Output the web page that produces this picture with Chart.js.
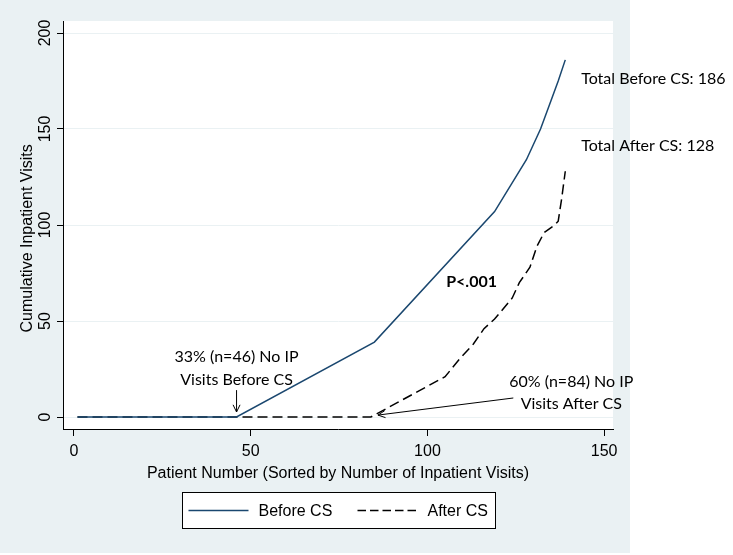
<!DOCTYPE html>
<html>
<head>
<meta charset="utf-8">
<script src="https://cdn.jsdelivr.net/npm/chart.js@4.4.0/dist/chart.umd.min.js"></script>
<style>
  html, body { margin: 0; padding: 0; background: #fff; }
  #wrap { width: 733px; height: 555px; }
</style>
</head>
<body>
<div id="wrap"><canvas id="ipChart" width="733" height="555"></canvas></div>
<script>
// cumulative inpatient visits, patients sorted by number of visits
const beforeX = [1, 46, 85, 119, 128, 132, 135, 137, 139];
const beforeY = [0, 0, 39, 107, 134, 150, 165, 175, 186];
const afterX = [1, 84, 98, 105, 109, 113, 116, 119, 124, 126, 129, 131, 133, 136, 137, 138, 139];
const afterY = [0, 0, 14, 21, 30, 38, 46, 51, 62, 70, 78, 89, 96, 100, 102, 114, 128];

const seriesLabels = ['Before CS', 'After CS'];
const xTicks = [0, 50, 100, 150];
const yTicks = [0, 50, 100, 150, 200];

const plain = "'Liberation Sans', Arial, sans-serif";
const noteFont = "Lato, 'Noto Sans', sans-serif";
const bgGray = '#eaf1f3';

function toPoints(xs, ys) {
    return xs.map((x, i) => ({ x: x, y: ys[i] }));
}

// text notes and arrows, placed in data units
const notes = [
    { text: 'Total Before CS: 186', x: 143.5, y: 176, align: 'left' },
    { text: 'Total After CS: 128', x: 143.5, y: 141, align: 'left' },
    { text: 'P<.001', x: 105.3, y: 70.3, align: 'left', bold: true },
    { text: '33% (n=46) No IP', x: 46, y: 31.3, align: 'center' },
    { text: 'Visits Before CS', x: 46, y: 19.3, align: 'center' },
    { text: '60% (n=84) No IP', x: 140.7, y: 18.2, align: 'center' },
    { text: 'Visits After CS', x: 140.7, y: 6.8, align: 'center' }
];
const arrows = [
    { from: [46, 14], to: [46, 2.6] },
    { from: [124.3, 9.9], to: [86, 1.0] }
];

const backgroundPlugin = {
    id: 'stataBackground',
    beforeDraw(chart) {
        const ctx = chart.ctx;
        const a = chart.chartArea;
        ctx.save();
        ctx.fillStyle = '#fff';
        ctx.fillRect(0, 0, chart.width, chart.height);
        ctx.fillStyle = bgGray;
        ctx.fillRect(0, 0, 630, 553);
        ctx.fillStyle = '#fff';
        ctx.fillRect(a.left, a.top, a.right - a.left, a.bottom - a.top);
        ctx.restore();
    }
};

const notesPlugin = {
    id: 'notes',
    afterDatasetsDraw(chart) {
        const ctx = chart.ctx;
        const xs = chart.scales.x, ys = chart.scales.y;
        ctx.save();
        ctx.fillStyle = '#000';
        ctx.textBaseline = 'middle';
        notes.forEach(n => {
            ctx.font = (n.bold ? 'bold ' : '') + '16px ' + noteFont;
            ctx.textAlign = n.align;
            ctx.fillText(n.text, xs.getPixelForValue(n.x), ys.getPixelForValue(n.y));
        });
        ctx.strokeStyle = '#000';
        ctx.lineWidth = 1;
        arrows.forEach(ar => {
            const x1 = xs.getPixelForValue(ar.from[0]), y1 = ys.getPixelForValue(ar.from[1]);
            const x2 = xs.getPixelForValue(ar.to[0]), y2 = ys.getPixelForValue(ar.to[1]);
            const ang = Math.atan2(y2 - y1, x2 - x1);
            const head = 8;
            ctx.beginPath();
            ctx.moveTo(x1, y1);
            ctx.lineTo(x2, y2);
            ctx.moveTo(x2 - head * Math.cos(ang - 0.45), y2 - head * Math.sin(ang - 0.45));
            ctx.lineTo(x2, y2);
            ctx.lineTo(x2 - head * Math.cos(ang + 0.45), y2 - head * Math.sin(ang + 0.45));
            ctx.stroke();
        });
        ctx.restore();
    }
};

const legendPlugin = {
    id: 'boxLegend',
    afterDraw(chart) {
        const ctx = chart.ctx;
        const a = chart.chartArea;
        const boxW = 313, boxH = 36;
        const bx = Math.round((a.left + a.right) / 2 - boxW / 2) + 0.5;
        const by = 492.5;
        ctx.save();
        ctx.fillStyle = '#fff';
        ctx.fillRect(bx, by, boxW, boxH);
        ctx.strokeStyle = '#000';
        ctx.lineWidth = 1;
        ctx.strokeRect(bx, by, boxW, boxH);
        const offsets = [6, 175];
        const cy = by + boxH / 2;
        chart.data.datasets.forEach((ds, i) => {
            const sx = bx + offsets[i];
            ctx.strokeStyle = ds.borderColor;
            ctx.lineWidth = ds.borderWidth;
            ctx.setLineDash(i === 1 ? [8.5, 4] : []);
            ctx.beginPath();
            ctx.moveTo(sx, cy);
            ctx.lineTo(sx + 60, cy);
            ctx.stroke();
            ctx.setLineDash([]);
            ctx.fillStyle = '#000';
            ctx.font = '16px ' + plain;
            ctx.textAlign = 'left';
            ctx.textBaseline = 'middle';
            ctx.fillText(ds.label, sx + 70, cy + 1);
        });
        ctx.restore();
    }
};

const ctx = document.getElementById('ipChart').getContext('2d');
new Chart(ctx, {
    type: 'line',
    data: {
        datasets: [
            {
                label: seriesLabels[0],
                data: toPoints(beforeX, beforeY),
                borderColor: '#1a476f',
                borderWidth: 1.5,
                pointRadius: 0,
                tension: 0,
                fill: false
            },
            {
                label: seriesLabels[1],
                data: toPoints(afterX, afterY),
                borderColor: '#000',
                borderWidth: 1.5,
                borderDash: [10, 5],
                pointRadius: 0,
                tension: 0,
                fill: false
            }
        ]
    },
    options: {
        responsive: false,
        animation: false,
        devicePixelRatio: 1,
        layout: { padding: { top: 21, right: 120, left: 0, bottom: 0 } },
        plugins: {
            legend: { display: false },
            tooltip: { enabled: false }
        },
        scales: {
            x: {
                type: 'linear',
                min: -3.1,
                max: 152.5,
                afterBuildTicks: s => { s.ticks = xTicks.map(v => ({ value: v })); },
                afterFit: s => { s.height = 126; },
                border: { color: '#000', width: 1 },
                grid: { drawOnChartArea: false, tickLength: 7, tickColor: '#000' },
                ticks: { color: '#000', padding: 6, maxRotation: 0, font: { family: plain, size: 16 } },
                title: {
                    display: true,
                    text: 'Patient Number (Sorted by Number of Inpatient Visits)',
                    color: '#000',
                    font: { family: plain, size: 16 },
                    padding: { top: 0, bottom: 72 }
                }
            },
            y: {
                type: 'linear',
                min: -6.25,
                max: 206.25,
                afterBuildTicks: s => { s.ticks = yTicks.map(v => ({ value: v })); },
                afterFit: s => { s.width = 63; },
                border: { color: '#000', width: 1 },
                grid: { color: bgGray, tickLength: 6, tickColor: '#000' },
                ticks: {
                    color: '#000',
                    padding: -2,
                    minRotation: 90,
                    maxRotation: 90,
                    crossAlign: 'center',
                    font: { family: plain, size: 16 }
                },
                title: {
                    display: true,
                    // trailing spaces push the rotated title a little lower, as in the source
                    text: 'Cumulative Inpatient Visits\u00a0\u00a0\u00a0\u00a0\u00a0\u00a0',
                    color: '#000',
                    font: { family: plain, size: 16 },
                    padding: { top: 18, bottom: 0 }
                }
            }
        }
    },
    plugins: [backgroundPlugin, notesPlugin, legendPlugin]
});
</script>
</body>
</html>
